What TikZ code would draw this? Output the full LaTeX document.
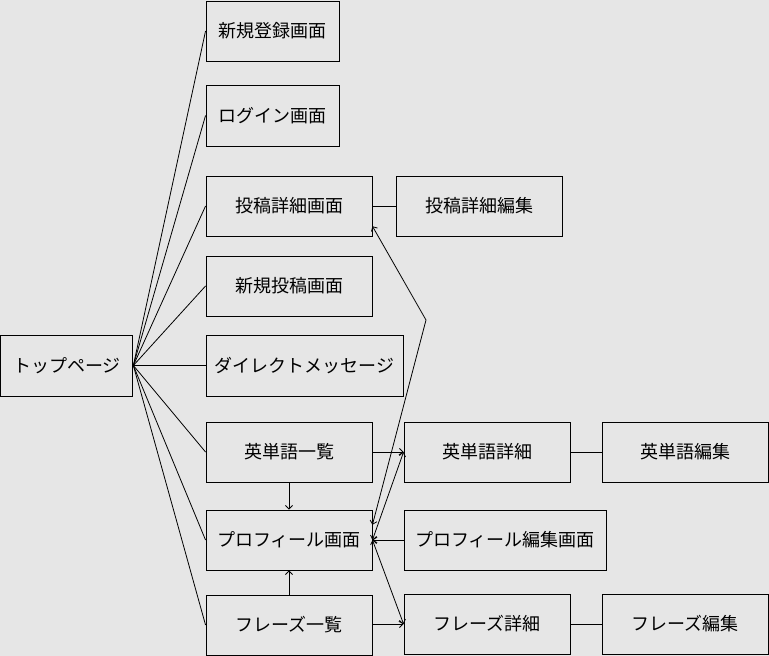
\documentclass[tikz,border=0pt]{standalone}
\usepackage{fontspec}
\setmainfont{Noto Sans CJK JP}
\usetikzlibrary{arrows.meta,calc}
\begin{document}
\begin{tikzpicture}[x=1pt,y=-1pt,
  box/.style={draw=black,line width=0.9pt,fill=none,inner sep=0pt,font=\fontsize{18}{21}\selectfont},
  conn/.style={draw=black,line width=0.8pt},
  >={Straight Barb[length=3.5pt,width=7pt]}]
\fill[fill={rgb,255:red,230;green,230;blue,230}] (0,0) rectangle (769,656);
\useasboundingbox (0,0) rectangle (769,656);
\node[box,minimum width=132pt,minimum height=61pt] (top) at (66.9,365.5) {トップページ};
\node[box,minimum width=133pt,minimum height=60pt] (reg) at (272.5,31) {新規登録画面};
\node[box,minimum width=133pt,minimum height=61pt] (login) at (272.5,115.5) {ログイン画面};
\node[box,minimum width=166pt,minimum height=60pt] (postd) at (289,206) {投稿詳細画面};
\node[box,minimum width=166pt,minimum height=60pt] (poste) at (479,206) {投稿詳細編集};
\node[box,minimum width=166pt,minimum height=60pt] (newpost) at (289,286) {新規投稿画面};
\node[box,minimum width=197pt,minimum height=61pt] (dm) at (304.5,365.5) {ダイレクトメッセージ};
\node[box,minimum width=166pt,minimum height=60pt] (wlist) at (289,452) {英単語一覧};
\node[box,minimum width=166pt,minimum height=60pt] (wdet) at (487,452) {英単語詳細};
\node[box,minimum width=166pt,minimum height=60pt] (wedit) at (685,452) {英単語編集};
\node[box,minimum width=166pt,minimum height=60pt] (prof) at (289,540) {プロフィール画面};
\node[box,minimum width=202pt,minimum height=60pt] (profedit) at (505,540) {プロフィール編集画面};
\node[box,minimum width=166pt,minimum height=60pt] (plist) at (289,625) {フレーズ一覧};
\node[box,minimum width=166pt,minimum height=60pt] (pdet) at (487,624) {フレーズ詳細};
\node[box,minimum width=166pt,minimum height=60pt] (pedit) at (685,624) {フレーズ編集};
\coordinate (bend) at (426,320);
% from top page
\foreach \n in {reg,login,postd,newpost,dm,wlist,prof,plist}
  \draw[conn] (top.east) -- (\n.west);
\draw[conn] (postd.east) -- (poste.west);
\draw[conn] (wdet.east) -- (wedit.west);
\draw[conn] (pdet.east) -- (pedit.west);
\draw[conn,<->] ($(prof.north east)!0.25!(prof.south east)$) -- (bend) -- ($(postd.north east)!0.833!(postd.south east)$);
\draw[conn,->] (wlist.east) -- (wdet.west);
\draw[conn,<->] (prof.east) -- (wdet.west);
\draw[conn,->] (profedit.west) -- (prof.east);
\draw[conn,<->] (prof.east) -- (pdet.west);
\draw[conn,->] (plist.east |- pdet.west) -- (pdet.west);
\draw[conn,->] (wlist.south) -- (prof.north);
\draw[conn,->] (plist.north) -- (prof.south);
\end{tikzpicture}
\end{document}
